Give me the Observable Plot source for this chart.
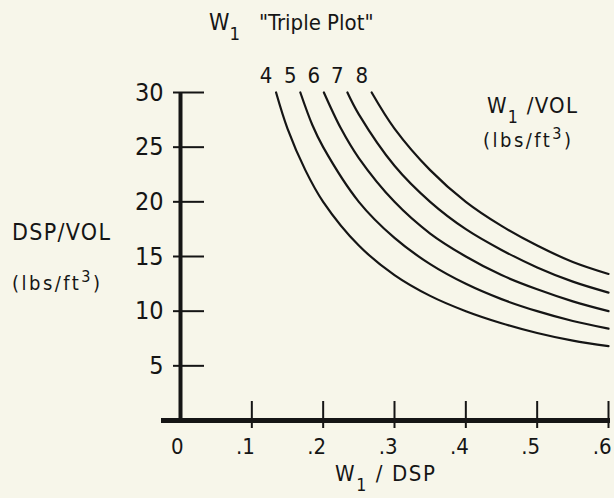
<!DOCTYPE html>
<html><head><meta charset="utf-8">
<script src="https://cdn.jsdelivr.net/npm/d3@7"></script>
<script src="https://cdn.jsdelivr.net/npm/@observablehq/plot@0.6"></script>
<style>
body{margin:0;background:#f7f6ea;}
svg{display:block;}
svg text{font-stretch:condensed;}
</style></head>
<body><div id="chart"></div>
<script>
// W1/VOL curve values: [W1/DSP, DSP/VOL]
const curveLabels = [4, 5, 6, 7, 8];
const curve4 = [[0.134,30],[0.15,26.7],[0.175,22.9],[0.2,20],[0.25,16],[0.3,13.3],[0.35,11.4],[0.4,10],[0.45,8.9],[0.5,8],[0.55,7.3],[0.6,6.8]];
const curve5 = [[0.168,30],[0.185,27],[0.2,25],[0.25,20],[0.3,16.7],[0.35,14.3],[0.4,12.5],[0.45,11.1],[0.5,10],[0.55,9.1],[0.6,8.4]];
const curve6 = [[0.201,30],[0.225,26.7],[0.25,24],[0.3,20],[0.35,17.1],[0.4,15],[0.45,13.3],[0.5,12],[0.55,10.9],[0.6,10]];
const curve7 = [[0.234,30],[0.25,28],[0.3,23.3],[0.35,20],[0.4,17.5],[0.45,15.6],[0.5,14],[0.55,12.7],[0.6,11.7]];
const curve8 = [[0.268,30],[0.3,26.7],[0.35,22.9],[0.4,20],[0.45,17.8],[0.5,16],[0.55,14.5],[0.6,13.4]];
const xTicks = [0, 0.1, 0.2, 0.3, 0.4, 0.5, 0.6];
const yTicks = [5, 10, 15, 20, 25, 30];

const curves = [curve4, curve5, curve6, curve7, curve8];
const rows = curves.flatMap((c, i) => c.map(([x, y]) => ({x, y, k: curveLabels[i]})));
const starts = curves.map((c, i) => ({x: c[0][0], y: c[0][1], k: String(curveLabels[i])}));

const FONT = '"DejaVu Sans Condensed","DejaVu Sans",sans-serif';
const ink = "#151515";

const chart = Plot.plot({
  width: 614, height: 498,
  marginLeft: 180, marginRight: 6, marginTop: 92, marginBottom: 78,
  style: {background: "#f7f6ea", fontFamily: FONT, color: ink},
  x: {domain: [0, 0.6]},
  y: {domain: [0, 30]},
  marks: [
    Plot.axisY(yTicks, {tickSize: 0, tickPadding: 17, fontSize: 25, label: null}),
    Plot.axisX(xTicks, {tickSize: 0, tickPadding: 18, fontSize: 22, label: null, textAnchor: "end", dx: 3,
      tickFormat: d => d === 0 ? "0" : String(d).replace("0.", ".")}),
    Plot.ruleY(yTicks, {x1: 0, x2: 0, insetLeft: -7, insetRight: -24, stroke: ink, strokeWidth: 2}),
    Plot.ruleX(xTicks.filter(d => d > 0), {y1: 0, y2: 0, insetTop: -19, insetBottom: -8, stroke: ink, strokeWidth: 2}),
    Plot.ruleX([0], {y1: 0, y2: 30, stroke: ink, strokeWidth: 4}),
    Plot.ruleY([0], {x1: 0, x2: 0.6, insetLeft: -19, insetRight: -2, stroke: ink, strokeWidth: 5}),
    Plot.line(rows, {x: "x", y: "y", z: "k", curve: "catmull-rom", stroke: ink, strokeWidth: 2.2}),
    Plot.text(starts, {x: "x", y: "y", text: "k", dx: -10, dy: -17, fontSize: 22, fill: ink})
  ]
});
document.getElementById("chart").append(chart);

const svg = d3.select(chart);
function label(x, y, size, parts, width) {
  const t = svg.append("text").attr("x", x).attr("y", y)
    .attr("text-anchor", "start")
    .attr("font-family", FONT).attr("font-size", size).attr("fill", ink);
  if (width) t.attr("textLength", width).attr("lengthAdjust", "spacing");
  parts.forEach(p => {
    const s = t.append("tspan").text(p.t);
    if (p.sub) s.attr("dy", size * 0.45).attr("font-size", size * 0.8);
    if (p.sup) s.attr("dy", -size * 0.4).attr("font-size", size * 0.8);
    if (p.back) s.attr("dy", p.back);
  });
}
// title
label(209, 30, 23, [{t: "W"}, {t: "1", sub: true}]);
label(259, 30, 22, [{t: "\"Triple Plot\""}]);
// right annotation
label(487, 113, 22, [{t: "W"}, {t: "1", sub: true}, {t: " /VOL", back: -22 * 0.45}], 90);
label(483, 147, 20, [{t: "(lbs/ft"}, {t: "3", sup: true}, {t: ")", back: 20 * 0.4}], 88);
// y label
label(12, 240, 23, [{t: "DSP/VOL"}], 98);
label(12, 290, 20, [{t: "(lbs/ft"}, {t: "3", sup: true}, {t: ")", back: 20 * 0.4}], 88);
// x label
label(335, 481, 22, [{t: "W"}, {t: "1", sub: true}, {t: " / DSP", back: -22 * 0.45}], 100);
</script>
</body></html>
